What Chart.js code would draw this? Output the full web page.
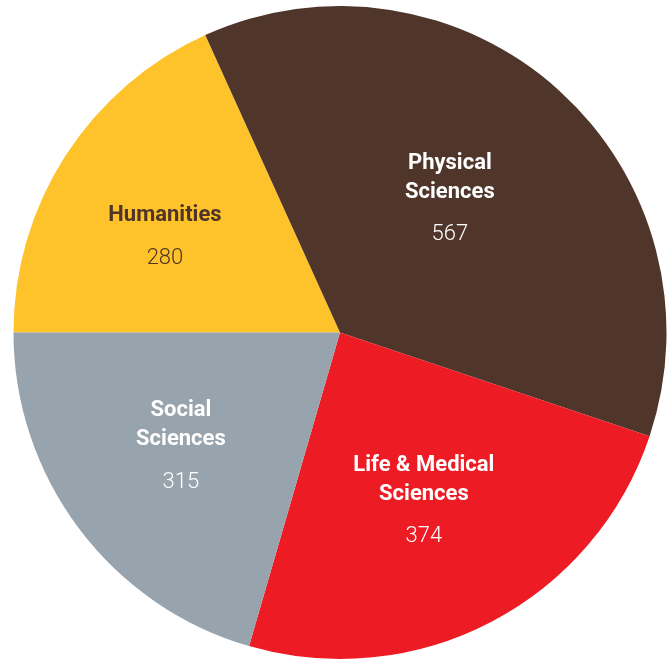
<!DOCTYPE html>
<html>
<head>
<meta charset="utf-8">
<script src="https://cdn.jsdelivr.net/npm/chart.js@4/dist/chart.umd.min.js"></script>
<style>
html,body{margin:0;padding:0;background:#fff;}
#wrap{width:671px;height:660px;position:relative;}
</style>
</head>
<body>
<div id="wrap"><canvas id="c" width="671" height="660"></canvas></div>
<script>
// Data
const categories = ["Humanities", "Physical Sciences", "Life & Medical Sciences", "Social Sciences"];
const labelLines = [["Humanities"], ["Physical", "Sciences"], ["Life & Medical", "Sciences"], ["Social", "Sciences"]];
const values = [280, 567, 374, 315];

// Styles
const sliceColors = ["#FEC32B", "#50352A", "#ED1C24", "#97A3AD"];
const textColors = ["#4F3428", "#FFFFFF", "#FFFFFF", "#FFFFFF"];
// placement within each slice: fraction along the slice's sweep, fraction of radius
const placement = [
  {along: 0.442, radial: 0.613},
  {along: 0.478, radial: 0.533},
  {along: 0.511, radial: 0.572},
  {along: 0.522, radial: 0.597}
];

const sliceLabels = {
  id: 'sliceLabels',
  afterDatasetsDraw(chart) {
    const ctx = chart.ctx;
    const meta = chart.getDatasetMeta(0);
    meta.data.forEach((arc, i) => {
      const p = arc.getProps(['x','y','startAngle','endAngle','outerRadius'], true);
      const pl = placement[i];
      const a = p.startAngle + pl.along * (p.endAngle - p.startAngle);
      const r = pl.radial * p.outerRadius;
      const cx = p.x + r * Math.cos(a);
      const cy = p.y + r * Math.sin(a) + 1.5;
      const lines = labelLines[i];
      const lineGap = 29, numGap = 42.5;
      const total = (lines.length - 1) * lineGap + numGap;
      let y = cy - total / 2;
      ctx.save();
      ctx.fillStyle = textColors[i];
      ctx.textAlign = 'center';
      ctx.textBaseline = 'middle';
      ctx.font = "bold 22px Roboto";
      lines.forEach((ln, k) => {
        ctx.fillText(ln, cx, y + k * lineGap);
      });
      ctx.font = "300 22px Roboto";
      ctx.fillText(String(chart.data.datasets[0].data[i]), cx, y + (lines.length - 1) * lineGap + numGap);
      ctx.restore();
    });
  }
};

new Chart(document.getElementById('c'), {
  type: 'pie',
  data: {
    labels: categories,
    datasets: [{
      data: values,
      backgroundColor: sliceColors,
      borderWidth: 0,
      hoverOffset: 0
    }]
  },
  options: {
    responsive: false,
    animation: false,
    rotation: -90,
    layout: { padding: { left: 13, right: 4, top: 6, bottom: 1 } },
    plugins: {
      legend: { display: false },
      tooltip: { enabled: false }
    }
  },
  plugins: [sliceLabels]
});
</script>
</body>
</html>
